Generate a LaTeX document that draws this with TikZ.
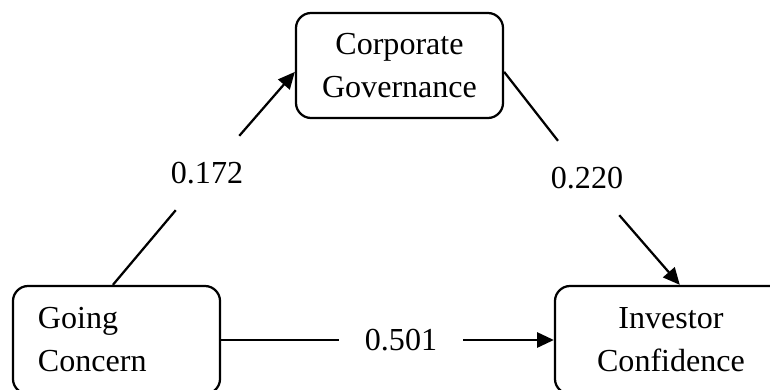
\documentclass[tikz,border=0pt]{standalone}
\usepackage{fontspec}
\setmainfont{Liberation Serif}
\usetikzlibrary{arrows.meta}
\begin{document}
\begin{tikzpicture}[x = 0.025cm, y = -0.025cm,
		box/.style = {draw, line width = 1.6pt, rounded corners = 0.38cm, minimum height = 2.7cm, font = \fontsize{22.8}{30.6}\selectfont},
		coef/.style = {inner sep = 0.65cm, font = \fontsize{22.8}{26}\selectfont},
		path/.style = {line width = 1.6pt, -{Triangle[length = 0.42cm, width = 0.38cm]}}]
		\useasboundingbox (0,0) rectangle (770,389);
		\clip (0,0) rectangle (770,389);
		\node [box, align = left, text width = 3.925cm, inner xsep = 0.625cm](going) at (116.5,340) {Going\\Concern};
		\node [box, align = center, minimum width = 5.175cm, minimum height = 2.625cm](corp) at (399.5,65.5) {Corporate\\Governance};
		\node [box, align = center, minimum width = 5.8cm](investor) at (671,340) {Investor\\Confidence};
		\node [coef](c_gc) at (207,173) {0.172};
		\node [coef](c_ci) at (587,178) {0.220};
		\node [coef](c_gi) at (401,340) {0.501};
		\draw [path] ([xshift = -0.09cm]going.north) -- (c_gc) -- ([yshift = -0.16cm]corp.west);
		\draw [path] ([yshift = -0.16cm]corp.east) -- (c_ci) -- ([xshift = 0.22cm]investor.north);
		\draw [path] (going.east) -- (c_gi) -- (investor.west);
\end{tikzpicture}
\end{document}
